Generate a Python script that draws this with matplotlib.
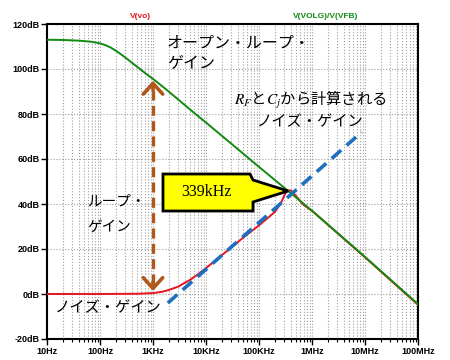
import matplotlib
matplotlib.use('Agg')
import matplotlib.pyplot as plt
from matplotlib.patches import Polygon
from matplotlib.ticker import FixedLocator, LogLocator, NullFormatter

plt.rcParams['font.family'] = ['Noto Sans CJK JP', 'DejaVu Sans']
plt.rcParams['mathtext.fontset'] = 'stix'

######## data
# open loop gain  V(VOLG)/V(VFB)
f_open = [10, 20, 40, 70, 100, 130, 160, 200, 250, 300, 400, 500, 700,
          1e3, 1.5e3, 2e3, 3e3, 5e3, 1e4, 1e5, 1e6, 1e7, 1e8]
db_open = [113, 112.9, 112.6, 112.1, 111.4, 110.5, 109.5, 108.1, 106.5,
           105.1, 102.8, 101.0, 98.3, 95.6, 92.3, 89.9, 86.4, 82.0, 76.2,
           56.5, 37, 16.5, -4.5]
# closed loop  V(vo)
f_vo = [10, 100, 500, 1000, 1500, 2000, 3000, 5000, 7000, 1e4, 2e4, 5e4,
        1e5, 2e5, 2.6e5, 3.1e5, 3.5e5, 4e5, 5e5, 7e5, 1e6, 1e7, 1e8]
db_vo = [0, 0, 0.1, 0.4, 1.0, 1.8, 3.3, 6.3, 8.7, 11.5, 17.3, 25, 30.5,
         36.5, 40.5, 44.5, 46, 46, 43.5, 39.5, 37, 16.3, -4.8]
# noise gain from RF, Cj (dashed)
f_noise = [1.9e3, 8.7e6]
db_noise = [-4, 72]
# loop gain arrow at 1kHz
f_loop = 1000
db_loop = [1.3, 94.8]

yticks = [-20, 0, 20, 40, 60, 80, 100, 120]
xticks = [10, 100, 1e3, 1e4, 1e5, 1e6, 1e7, 1e8]
xlabels = ['10Hz', '100Hz', '1KHz', '10KHz', '100KHz', '1MHz', '10MHz', '100MHz']

green = '#118a11'
red = '#e8141e'
blue = '#1f6fc0'
brown = '#b0581c'

######################## PLOT
fig = plt.figure(figsize=(4.5, 3.6), dpi=100)
ax = fig.add_axes([47/450, 1-339/360, 371/450, 315/360])

ax.plot(f_vo, db_vo, color=red, lw=1.4, zorder=3)
ax.plot(f_open, db_open, color=green, lw=1.4, zorder=4)
ax.plot(f_noise, db_noise, color=blue, lw=2.6, dashes=(3.5, 2), zorder=5)

# loop gain arrow
ax.plot([f_loop, f_loop], [db_loop[0] + 3, db_loop[1] - 3], color=brown,
        lw=2.4, dashes=(3, 1.6), zorder=5)
for tip, tail in [(db_loop[1], db_loop[1] - 4), (db_loop[0], db_loop[0] + 4)]:
    ax.annotate('', xy=(f_loop, tip), xytext=(f_loop, tail),
                arrowprops=dict(arrowstyle='->,head_length=0.55,head_width=0.5',
                                lw=2.6, color=brown, mutation_scale=14,
                                shrinkA=0, shrinkB=0), zorder=6)

ax.set_xscale('log')
ax.set_xlim(10, 1e8)
ax.set_ylim(-20, 120)
ax.xaxis.set_major_locator(FixedLocator(xticks))
ax.xaxis.set_minor_locator(LogLocator(base=10, subs=range(2, 10), numticks=20))
ax.xaxis.set_minor_formatter(NullFormatter())
ax.set_xticks(xticks)
ax.set_xticklabels(xlabels)
ax.set_yticks(yticks)
ax.set_yticklabels(['%ddB' % v for v in yticks])
for lab in ax.get_xticklabels() + ax.get_yticklabels():
    lab.set_family(['Liberation Sans', 'DejaVu Sans'])
    lab.set_fontweight('bold')
    lab.set_fontsize(6.5)
ax.tick_params(which='major', direction='out', length=4, width=1, pad=1.5)
ax.tick_params(which='minor', direction='out', length=2, width=0.8)
ax.grid(which='both', axis='x', ls=':', color='#a0a0a0', lw=0.8)
ax.grid(which='major', axis='y', ls=':', color='#a0a0a0', lw=0.8)
for s in ax.spines.values():
    s.set_linewidth(1.5)

# callout 339kHz
pts = [(163, 174), (250, 174), (253, 180), (288, 191), (253, 202),
       (253, 211), (163, 211)]
pts = [((x-47)/371, (339-y)/315) for x, y in pts]
ax.add_patch(Polygon(pts, closed=True, transform=ax.transAxes, fc='#ffff00',
                     ec='black', lw=2, zorder=7, joinstyle='miter'))
ax.text((207-47)/371, (339-192)/315, '339kHz', transform=ax.transAxes,
        family=['Liberation Serif'], fontsize=11.5, ha='center', va='center',
        zorder=8)

# labels
def t(x, y, s, ha='left', size=11):
    ax.text((x-47)/371, (339-y)/315, s, transform=ax.transAxes, ha=ha,
            va='center', fontsize=size, zorder=8)

t(167, 43, 'オープン・ループ・', size=11.5)
t(167, 64, 'ゲイン', size=11.5)
t(310, 100, '$R_F$と$C_j$から計算される', ha='center')
t(310, 122, 'ノイズ・ゲイン', ha='center')
t(87, 202, 'ループ・', size=10.5)
t(87, 227, 'ゲイン', size=10.5)
t(55, 308, 'ノイズ・ゲイン')

ax.text((140-47)/371, (339-17)/315, 'V(vo)', transform=ax.transAxes,
        color=red, fontsize=6, fontweight='bold', ha='center', va='center',
        family=['Liberation Sans'])
ax.text((326-47)/371, (339-17)/315, 'V(VOLG)/V(VFB)', transform=ax.transAxes,
        color=green, fontsize=6, fontweight='bold', ha='center', va='center',
        family=['Liberation Sans'])

fig.savefig('out.png', dpi=100)
